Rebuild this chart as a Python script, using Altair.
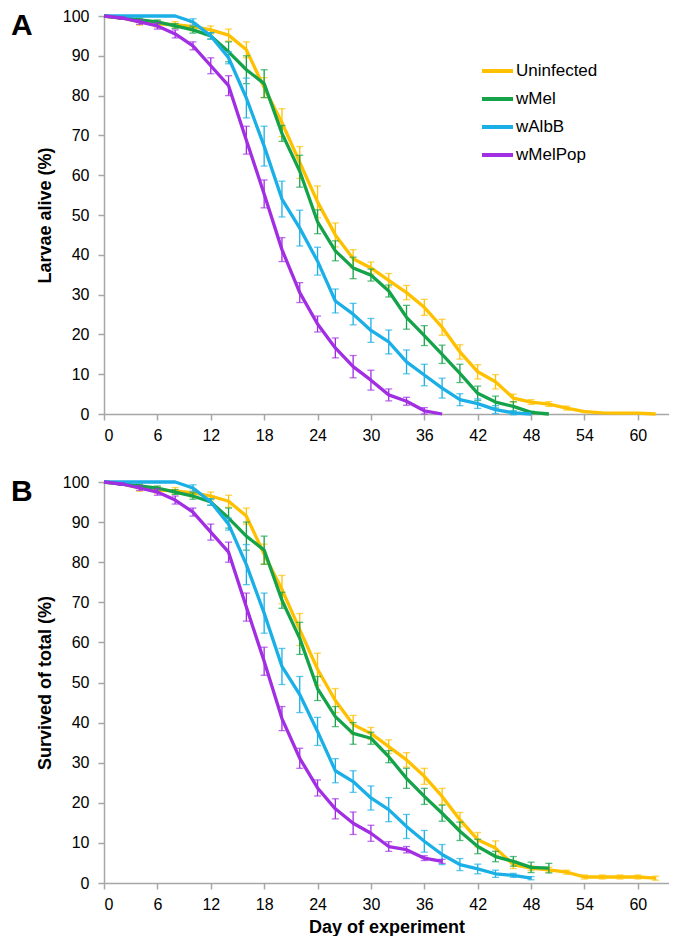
import altair as alt
import pandas as pd

SERIES = ["Uninfected", "wMel", "wAlbB", "wMelPop"]
COLORS = ["#FFC000", "#15A34A", "#1AAFE6", "#A12EE3"]
LAST_DAY = {"Uninfected": 62, "wMel": 50, "wAlbB": 48, "wMelPop": 38}

# Panel A: larvae alive (%), every 2 days
A_UNINF = [100, 99.5, 98.5, 98, 97.8, 97.3, 96.5, 95.2, 91.5, 82, 73.2, 63.2, 53.3, 45, 39, 36.7,
           33.6, 30.5, 26.8, 21.8, 15.6, 10.6, 8.1, 4, 3, 2.5, 1.5, 0.6, 0.3, 0.2, 0.2, 0]
A_UNINF_ERR = [0, 0.3, 0.8, 0.8, 0.8, 1, 1, 1.5, 2, 2.5, 3.5, 4, 4, 3, 2.3, 1.5,
               1.7, 1.8, 2, 2, 1.8, 1.8, 1.8, 1, 0.6, 0.6, 0.5, 0.2, 0, 0, 0, 0]
A_WMEL = [100, 99.5, 99, 98.5, 97.5, 96.5, 95, 91, 86.5, 83, 70.5, 61, 48.3, 41, 36.7, 34.9,
          30.9, 24.3, 19.7, 15, 10.2, 5.2, 3, 1.9, 0.4, 0]
A_WMEL_ERR = [0, 0.3, 0.5, 0.5, 0.6, 0.8, 0.8, 2.5, 3.5, 3.5, 2, 4, 3, 2.5, 2.7, 1.5,
              1.5, 3, 2.5, 2.3, 2.3, 1.8, 1.5, 1.2, 0.3, 0]
A_WALBB = [100, 100, 100, 100, 100, 98.5, 95, 89.5, 79.4, 67.3, 54, 46.7, 38.4, 28.4, 25.1, 21,
           18.1, 13.1, 9.8, 6.5, 3.6, 2.6, 1.1, 0.3, 0]
A_WALBB_ERR = [0, 0, 0, 0, 0, 0.8, 0.8, 1.5, 5, 5, 4.5, 4.5, 3.5, 3, 2.7, 3,
               3, 3, 2.7, 2.5, 1.5, 1.2, 1, 0.5, 0]
A_WMELPOP = [100, 99.5, 98.5, 97.5, 95.5, 92.5, 87.5, 82.5, 68.8, 55.3, 41.3, 30.5, 22.6, 16.6,
             11.9, 8.5, 4.8, 3.2, 0.8, 0]
A_WMELPOP_ERR = [0, 0.3, 0.6, 0.8, 1, 1, 2, 2.5, 3.5, 3.5, 3, 2.5, 2, 2.5, 2.8, 2.5, 1.5, 1, 0.8, 0]

# Panel B: survived of total (%)
B_UNINF = [100, 99.5, 98.5, 98, 97.8, 97.3, 96.5, 95.2, 91.5, 82, 73.2, 63.2, 53.3, 45.5, 39.5, 37.3,
           34, 30.7, 26.6, 21.6, 15.8, 10.8, 8.7, 4.6, 3.7, 3.3, 2.7, 1.5, 1.5, 1.5, 1.5, 1.2]
B_UNINF_ERR = [0, 0.3, 0.8, 0.8, 0.8, 1, 1, 1.5, 2, 2.5, 3.5, 4, 4, 3, 2.3, 1.5,
               1.7, 1.8, 2, 2, 1.8, 1.8, 1.8, 1, 0.6, 0.6, 0.5, 0.5, 0.5, 0.5, 0.5, 0.5]
B_WMEL = [100, 99.5, 99, 98.5, 97.5, 96.5, 95, 91, 86.5, 83, 70.5, 61, 48.5, 41.5, 37.3, 36.1,
          31.5, 26.1, 21.6, 17.4, 12.9, 9.1, 6.6, 5.4, 3.9, 3.7]
B_WMEL_ERR = [0, 0.3, 0.5, 0.5, 0.6, 0.8, 0.8, 2.5, 3.5, 3.5, 2, 4, 3, 2.5, 2.7, 1.5,
              1.5, 2.5, 2, 2, 2.3, 1.8, 1.3, 1.2, 1.3, 1.2]
B_WALBB = [100, 100, 100, 100, 100, 98.5, 95, 89.5, 79.4, 67.3, 54, 47, 37.8, 28, 25.3, 21.2,
           18.3, 14.1, 10.4, 7.1, 4.6, 3.5, 2.3, 1.9, 1.2]
B_WALBB_ERR = [0, 0, 0, 0, 0, 0.8, 0.8, 1.5, 5, 5, 4.5, 4.5, 3.5, 3, 2.7, 3,
               3, 3, 2.7, 2.5, 1.5, 1.2, 0.9, 0.5, 0.4]
B_WMELPOP = [100, 99.5, 98.5, 97.5, 95.5, 92.5, 87.5, 82.5, 68.8, 55.3, 41, 31.1, 23.7, 18.5,
             14.9, 12.4, 9.1, 8.3, 6.2, 5.4]
B_WMELPOP_ERR = [0, 0.3, 0.6, 0.8, 1, 1, 2, 2.5, 3.5, 3.5, 3, 2.5, 2, 2.5, 2.8, 2, 1.2, 0.8, 0.6, 0.5]

X_TICKS = list(range(0, 61, 6))
Y_TICKS = list(range(0, 101, 10))

PANELS = {
    "A": {"Uninfected": (A_UNINF, A_UNINF_ERR), "wMel": (A_WMEL, A_WMEL_ERR),
          "wAlbB": (A_WALBB, A_WALBB_ERR), "wMelPop": (A_WMELPOP, A_WMELPOP_ERR)},
    "B": {"Uninfected": (B_UNINF, B_UNINF_ERR), "wMel": (B_WMEL, B_WMEL_ERR),
          "wAlbB": (B_WALBB, B_WALBB_ERR), "wMelPop": (B_WMELPOP, B_WMELPOP_ERR)},
}

rows = []
for p, sd in PANELS.items():
    for s in SERIES:
        vals, errs = sd[s]
        days = list(range(0, LAST_DAY[s] + 1, 2))
        for d, v, e in zip(days, vals, errs):
            rows.append({"panel": p, "series": s, "day": d, "value": v, "err": e,
                         "lo": v - e, "hi": v + e})
df = pd.DataFrame(rows)

FONT = "Liberation Sans"
W = 565


def make_panel(key, ytitle, xtitle, legend, height, legend_top):
    d = df[df.panel == key]
    xs = alt.Scale(domain=[0, 63.5], nice=False)
    ys = alt.Scale(domain=[0, 100], nice=False)
    xaxis = alt.Axis(values=X_TICKS, title=xtitle)
    yaxis = alt.Axis(values=Y_TICKS, title=ytitle)
    color = alt.Color("series:N", scale=alt.Scale(domain=SERIES, range=COLORS), legend=None)
    layers = []
    for s in SERIES:
        ds = d[d.series == s]
        de = ds[ds.err > 0]
        eb = alt.Chart(de)
        layers.append(eb.mark_rule(strokeWidth=1.3).encode(
            x=alt.X("day:Q", scale=xs, axis=xaxis),
            y=alt.Y("lo:Q", scale=ys, axis=yaxis), y2="hi:Q", color=color))
        layers.append(eb.mark_tick(orient="horizontal", size=7, thickness=1.3).encode(
            x=alt.X("day:Q", scale=xs, axis=xaxis),
            y=alt.Y("lo:Q", scale=ys, axis=yaxis), color=color))
        layers.append(eb.mark_tick(orient="horizontal", size=7, thickness=1.3).encode(
            x=alt.X("day:Q", scale=xs, axis=xaxis),
            y=alt.Y("hi:Q", scale=ys, axis=yaxis), color=color))
        layers.append(alt.Chart(ds).mark_line(strokeWidth=3.3, strokeJoin="round").encode(
            x=alt.X("day:Q", scale=xs, axis=xaxis),
            y=alt.Y("value:Q", scale=ys, axis=yaxis), color=color))
    layers.append(alt.Chart(pd.DataFrame({"t": [key]})).mark_text(
        align="left", baseline="top", fontSize=30, fontWeight="bold", font=FONT, color="black"
    ).encode(x=alt.value(-93), y=alt.value(-5), text="t:N"))
    if legend:
        for i, s in enumerate(SERIES):
            yy = legend_top + 28 * i
            lab = alt.Chart(pd.DataFrame({"label": [s]}))
            layers.append(lab.mark_rule(strokeWidth=4, color=COLORS[i]).encode(
                x=alt.value(378), x2=alt.value(409), y=alt.value(yy)))
            layers.append(lab.mark_text(align="left", baseline="middle", fontSize=17, font=FONT,
                                        color="black").encode(
                x=alt.value(412), y=alt.value(yy), text="label:N"))
    return alt.layer(*layers).properties(width=W, height=height)


top = make_panel("A", "Larvae alive (%)", None, True, 398, 55)
bottom = make_panel("B", "Survived of total (%)", "Day of  experiment", False, 401, 0)

chart = alt.vconcat(top, bottom, spacing=31).properties(
    padding={"left": 3, "top": 0, "right": 0, "bottom": 0}
).configure_view(stroke=None).configure_axis(
    grid=False, domainColor="#A6A6A6", tickColor="#A6A6A6", domainWidth=1.5, tickWidth=1.5,
    tickSize=6, labelFont=FONT, labelFontSize=16, labelColor="black",
    titleFont=FONT, titleFontSize=18, titleFontWeight="bold", titleColor="black"
).configure_axisY(labelPadding=9, titlePadding=8).configure_axisX(labelPadding=7, titlePadding=6)

chart.save("out.html", embed_options={"renderer": "svg", "actions": False})
